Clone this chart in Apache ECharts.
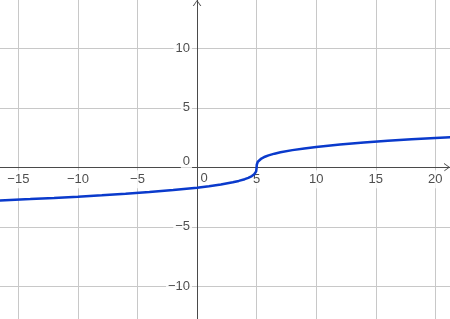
<!DOCTYPE html>
<html><head><meta charset="utf-8">
<script src="https://cdn.jsdelivr.net/npm/echarts@6/dist/echarts.min.js"></script>
<style>html,body{margin:0;padding:0;background:#fff}#c{width:450px;height:319px}</style>
</head><body><div id="c"></div>
<script>
var curveX = [-16.6,-14,-12,-10,-8,-6,-4,-2,0,1,2,3,3.5,4,4.3,4.6,4.8,4.9,4.96,4.99,5,5.01,5.04,5.1,5.2,5.4,5.7,6,6.5,7,8,9,10,12,14,16,18,20,21.3];
var curveY = [-2.785,-2.668,-2.571,-2.466,-2.351,-2.224,-2.080,-1.913,-1.710,-1.587,-1.442,-1.260,-1.145,-1.000,-0.888,-0.737,-0.585,-0.464,-0.342,-0.215,0,0.215,0.342,0.464,0.585,0.737,0.888,1.000,1.145,1.260,1.442,1.587,1.710,1.913,2.080,2.224,2.351,2.466,2.536];
var xTicks = [-15,-10,-5,0,5,10,15,20];
var xTickLabels = ['−15','−10','−5','0','5','10','15','20'];
var yTicks = [-10,-5,0,5,10];
var yTickLabels = ['−10','−5','0','5','10'];
var xRange = [-16.54, 21.23];
var yRange = [-12.75, 14.06];

var FONT = 'Liberation Sans, Arial, sans-serif';
var curve = curveX.map(function(x,i){return [x, curveY[i]];});
var xLabelData = xTicks.map(function(v,i){
  var item = {value:[v,0], name:xTickLabels[i]};
  if (v === 0) item.label = {offset:[7,-1]};
  return item;
});
var yLabelData = yTicks.map(function(v,i){
  var item = {value:[0,v], name:yTickLabels[i]};
  if (v === 0) item.label = {offset:[0,-6]};
  return item;
});
var arrowPath = 'path://M0,70 L50,0 L100,70 L88,70 L50,16 L12,70 Z';
var gl = '#c8c8c8';

var chart = echarts.init(document.getElementById('c'), null, {renderer:'canvas'});
chart.setOption({
  animation:false,
  backgroundColor:'#fff',
  grid:{left:0,right:0,top:0,bottom:0,containLabel:false,outerBoundsMode:'none'},
  xAxis:{type:'value',min:xRange[0],max:xRange[1],splitNumber:7,
    axisLine:{onZero:true,lineStyle:{color:'#4a4a4a',width:1},symbol:['none',arrowPath],symbolSize:[10,6],symbolOffset:[0,-3]},
    axisTick:{show:false},axisLabel:{show:false},
    splitLine:{show:true,lineStyle:{color:['transparent',gl,gl,gl,gl,gl,gl,gl,gl,'transparent'],width:1}}
  },
  yAxis:{type:'value',min:yRange[0],max:yRange[1],splitNumber:5,
    axisLine:{onZero:true,lineStyle:{color:'#4a4a4a',width:1},symbol:['none',arrowPath],symbolSize:[10,6],symbolOffset:[0,-3]},
    axisTick:{show:false},axisLabel:{show:false},
    splitLine:{show:true,lineStyle:{color:['transparent',gl,gl,gl,gl,gl,'transparent'],width:1}}
  },
  series:[
    {type:'scatter',data:xLabelData,symbolSize:0,silent:true,z:2,
      label:{show:true,position:'bottom',distance:3,formatter:'{b}',fontFamily:FONT,fontSize:13,color:'#222',
        backgroundColor:'#fff',padding:[3,2,2,2]}},
    {type:'scatter',data:yLabelData,symbolSize:0,silent:true,z:2,
      label:{show:true,position:'left',distance:5,formatter:'{b}',fontFamily:FONT,fontSize:13,color:'#222',
        backgroundColor:'#fff',padding:[1,2,1,2]}},
    {type:'line',data:curve,showSymbol:false,smooth:false,clip:true,silent:true,
      lineStyle:{color:'#0a3acc',width:2.5},z:5}
  ]
});
</script></body></html>
